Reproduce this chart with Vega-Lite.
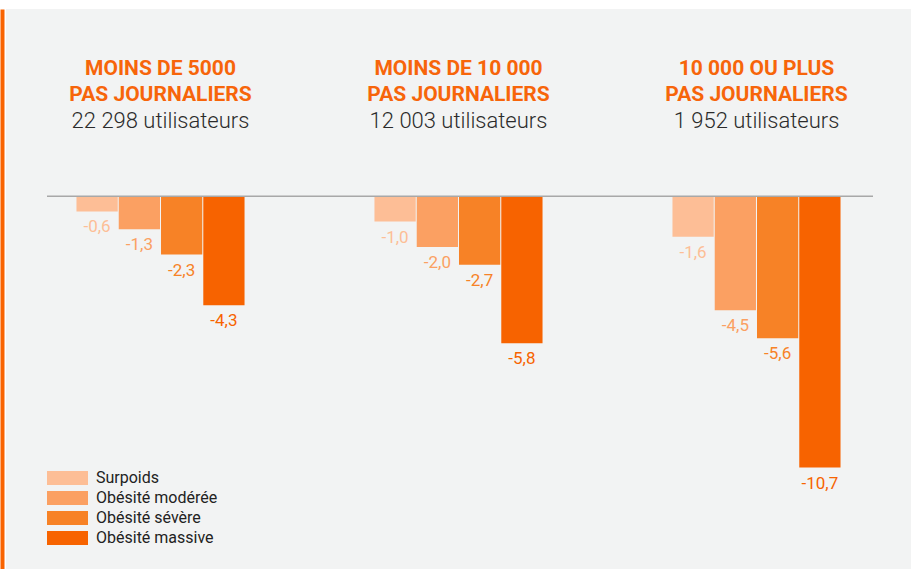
{
  "$schema": "https://vega.github.io/schema/vega-lite/v6.json",
  "width": 905,
  "height": 560,
  "autosize": {"type": "none"},
  "padding": {"left": 6, "top": 9, "right": 0, "bottom": 0},
  "background": "#ffffff",
  "config": {
    "view": {"fill": "#f2f3f3", "stroke": null},
    "font": "Roboto",
    "locale": {"number": {"decimal": ",", "thousands": " ", "grouping": [3], "currency": ["", " €"], "minus": "-"}}
  },
  "datasets": {
    "bars": [
      {"groupe": "MOINS DE 5000|PAS JOURNALIERS|22 298 utilisateurs", "categorie": "Surpoids", "variation": -0.6},
      {"groupe": "MOINS DE 5000|PAS JOURNALIERS|22 298 utilisateurs", "categorie": "Obésité modérée", "variation": -1.3},
      {"groupe": "MOINS DE 5000|PAS JOURNALIERS|22 298 utilisateurs", "categorie": "Obésité sévère", "variation": -2.3},
      {"groupe": "MOINS DE 5000|PAS JOURNALIERS|22 298 utilisateurs", "categorie": "Obésité massive", "variation": -4.3},
      {"groupe": "MOINS DE 10 000|PAS JOURNALIERS|12 003 utilisateurs", "categorie": "Surpoids", "variation": -1.0},
      {"groupe": "MOINS DE 10 000|PAS JOURNALIERS|12 003 utilisateurs", "categorie": "Obésité modérée", "variation": -2.0},
      {"groupe": "MOINS DE 10 000|PAS JOURNALIERS|12 003 utilisateurs", "categorie": "Obésité sévère", "variation": -2.7},
      {"groupe": "MOINS DE 10 000|PAS JOURNALIERS|12 003 utilisateurs", "categorie": "Obésité massive", "variation": -5.8},
      {"groupe": "10 000 OU PLUS|PAS JOURNALIERS|1 952 utilisateurs", "categorie": "Surpoids", "variation": -1.6},
      {"groupe": "10 000 OU PLUS|PAS JOURNALIERS|1 952 utilisateurs", "categorie": "Obésité modérée", "variation": -4.5},
      {"groupe": "10 000 OU PLUS|PAS JOURNALIERS|1 952 utilisateurs", "categorie": "Obésité sévère", "variation": -5.6},
      {"groupe": "10 000 OU PLUS|PAS JOURNALIERS|1 952 utilisateurs", "categorie": "Obésité massive", "variation": -10.7}
    ],
    "zero": [{"debut": 0, "fin": 1}]
  },
  "layer": [
    {
      "data": {"name": "bars"},
      "mark": {"type": "bar"},
      "encoding": {
        "x": {
          "field": "groupe", "type": "nominal",
          "sort": ["MOINS DE 5000|PAS JOURNALIERS|22 298 utilisateurs", "MOINS DE 10 000|PAS JOURNALIERS|12 003 utilisateurs", "10 000 OU PLUS|PAS JOURNALIERS|1 952 utilisateurs"],
          "scale": {"paddingInner": 0.436, "paddingOuter": 0.2365},
          "axis": {
            "orient": "top", "offset": -65, "domain": false, "ticks": false, "title": null,
            "labelPadding": 0, "labelBaseline": "alphabetic", "labelAngle": 0, "labelLineHeight": 26,
            "labelExpr": "slice(split(datum.value, '|'), 0, 2)",
            "labelFont": "Roboto", "labelFontWeight": "bold", "labelFontSize": 21, "labelColor": "#f7650a",
            "labelOverlap": false, "labelBound": false, "labelFlush": false, "labelLimit": 400
          }
        },
        "xOffset": {
          "field": "categorie", "type": "nominal",
          "sort": ["Surpoids", "Obésité modérée", "Obésité sévère", "Obésité massive"],
          "scale": {"paddingInner": 0.024, "paddingOuter": 0}
        },
        "y": {
          "field": "variation", "type": "quantitative",
          "scale": {"domain": [-14.7, 7.38], "nice": false, "zero": false},
          "axis": {"orient": "left", "offset": 4, "domainColor": "#f96300", "domainWidth": 4, "ticks": false, "labels": false, "grid": false, "title": null}
        },
        "color": {
          "field": "categorie", "type": "nominal",
          "sort": ["Surpoids", "Obésité modérée", "Obésité sévère", "Obésité massive"],
          "scale": {"domain": ["Surpoids", "Obésité modérée", "Obésité sévère", "Obésité massive"], "range": ["#fdbe96", "#fba062", "#f78226", "#f76300"]},
          "legend": {
            "title": null, "orient": "none", "legendX": 41, "legendY": 461, "padding": 0,
            "symbolType": "M-1,-0.341H1V0.341H-1Z", "symbolSize": 1681, "symbolStrokeWidth": 0,
            "clipHeight": 16, "rowPadding": 4, "labelOffset": 8,
            "labelFont": "Roboto", "labelFontSize": 16, "labelColor": "#222222"
          }
        }
      }
    },
    {
      "data": {"name": "bars"},
      "mark": {"type": "text", "baseline": "top", "dy": 8, "fontSize": 17, "font": "Roboto"},
      "encoding": {
        "x": {
          "field": "groupe", "type": "nominal",
          "sort": ["MOINS DE 5000|PAS JOURNALIERS|22 298 utilisateurs", "MOINS DE 10 000|PAS JOURNALIERS|12 003 utilisateurs", "10 000 OU PLUS|PAS JOURNALIERS|1 952 utilisateurs"],
          "scale": {"paddingInner": 0.436, "paddingOuter": 0.2365},
          "axis": {
            "orient": "top", "offset": -118, "domain": false, "ticks": false, "title": null,
            "labelPadding": 0, "labelBaseline": "alphabetic", "labelAngle": 0,
            "labelExpr": "split(datum.value, '|')[2]",
            "labelFont": "Roboto", "labelFontWeight": 300, "labelFontSize": 22, "labelColor": "#2b2b2b",
            "labelOverlap": false, "labelBound": false, "labelFlush": false, "labelLimit": 400
          }
        },
        "xOffset": {
          "field": "categorie", "type": "nominal",
          "sort": ["Surpoids", "Obésité modérée", "Obésité sévère", "Obésité massive"],
          "scale": {"paddingInner": 0.024, "paddingOuter": 0}
        },
        "y": {
          "field": "variation", "type": "quantitative",
          "axis": {"orient": "left", "offset": 4, "domainColor": "#f96300", "domainWidth": 4, "ticks": false, "labels": false, "grid": false, "title": null}
        },
        "color": {
          "field": "categorie", "type": "nominal",
          "sort": ["Surpoids", "Obésité modérée", "Obésité sévère", "Obésité massive"]
        },
        "text": {"field": "variation", "type": "quantitative", "format": ".1f"}
      }
    },
    {
      "data": {"name": "zero"},
      "mark": {"type": "rule", "color": "#a8a8a8", "strokeWidth": 1.5},
      "encoding": {
        "x": {"field": "debut", "type": "quantitative", "scale": {"domain": [0, 1], "range": [41, 867]}, "axis": null},
        "x2": {"field": "fin"},
        "y": {"datum": 0, "type": "quantitative",
          "axis": {"orient": "left", "offset": 4, "domainColor": "#f96300", "domainWidth": 4, "ticks": false, "labels": false, "grid": false, "title": null}}
      }
    }
  ],
  "resolve": {"scale": {"x": "independent"}, "axis": {"x": "independent"}}
}
